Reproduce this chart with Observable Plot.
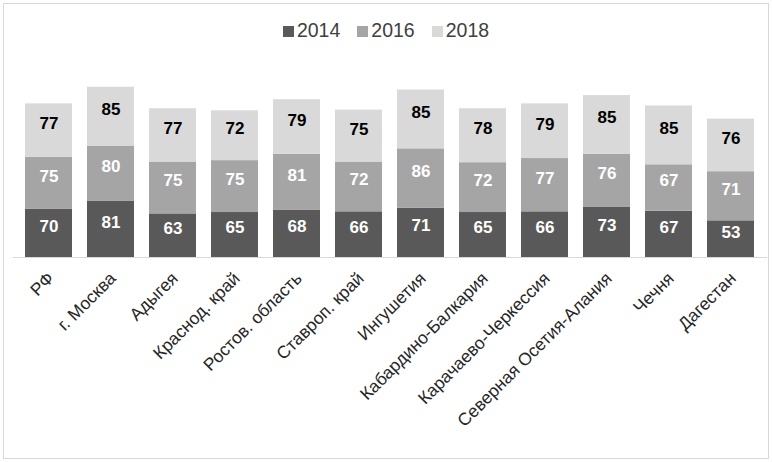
<!DOCTYPE html>
<html>
<head>
<meta charset="utf-8">
<script src="https://cdn.jsdelivr.net/npm/d3@7"></script>
<script src="https://cdn.jsdelivr.net/npm/@observablehq/plot@0.6"></script>
<style>
  html, body { margin: 0; padding: 0; background: #fff; }
  #wrap { position: relative; width: 772px; height: 462px; font-family: "Liberation Sans", Arial, sans-serif; }
  #frame { position: absolute; left: 3px; top: 3px; width: 764px; height: 454px; border: 1px solid #d9d9d9; box-sizing: content-box; pointer-events: none; }
  #legend { position: absolute; left: 0; top: 19px; width: 772px; display: flex; justify-content: center; gap: 17px; font-size: 19.5px; color: #404040; }
  #legend .item { display: flex; align-items: center; }
  #legend .sw { width: 11px; height: 11px; margin-right: 3px; margin-top: 2px; }
  #chart { position: absolute; left: 0; top: 0; }
</style>
</head>
<body>
<div id="wrap">
  <div id="chart"></div>
  <div id="legend"></div>
  <div id="frame"></div>
</div>
<script>
const regions = ["РФ","г. Москва","Адыгея","Краснод. край","Ростов. область","Ставроп. край","Ингушетия","Кабардино-Балкария","Карачаево-Черкессия","Северная Осетия-Алания","Чечня","Дагестан"];
const years = ["2014","2016","2018"];
const v2014 = [70,81,63,65,68,66,71,65,66,73,67,53];
const v2016 = [75,80,75,75,81,72,86,72,77,76,67,71];
const v2018 = [77,85,77,72,79,75,85,78,79,85,85,76];
const yearColors = {"2014": "#595959", "2016": "#a5a5a5", "2018": "#d9d9d9"};
const labelColors = {"2014": "#ffffff", "2016": "#ffffff", "2018": "#000000"};

const series = {"2014": v2014, "2016": v2016, "2018": v2018};
const data = [];
regions.forEach((r, i) => {
  years.forEach(y => data.push({region: r, year: y, value: series[y][i]}));
});

const legend = document.getElementById("legend");
years.forEach(y => {
  const it = document.createElement("div");
  it.className = "item";
  const sw = document.createElement("div");
  sw.className = "sw";
  sw.style.background = yearColors[y];
  const t = document.createElement("span");
  t.textContent = y;
  it.appendChild(sw); it.appendChild(t);
  legend.appendChild(it);
});

const chart = Plot.plot({
  width: 772,
  height: 462,
  marginLeft: 13,
  marginRight: 5,
  marginTop: 84,
  marginBottom: 205,
  style: {fontFamily: "'Liberation Sans', Arial, sans-serif", background: "transparent", overflow: "visible"},
  x: {domain: regions, paddingInner: 0.237, paddingOuter: 0.127, label: null},
  y: {domain: [0, 250], axis: null},
  color: {type: "identity"},
  marks: [
    Plot.barY(data, Plot.stackY({x: "region", y: "value", fill: d => yearColors[d.year]})),
    Plot.ruleY([0], {stroke: "#d9d9d9", strokeWidth: 1}),
    Plot.text(data, Plot.stackY({x: "region", y: "value", text: d => String(d.value), fill: d => labelColors[d.year], fontSize: 17, fontWeight: "bold", dy: -7})),
    Plot.axisX({tickRotate: -45, tickSize: 0, tickPadding: 18, dx: 2, fontSize: 17.5, fill: "#262626", label: null})
  ]
});
document.getElementById("chart").appendChild(chart);
</script>
</body>
</html>
